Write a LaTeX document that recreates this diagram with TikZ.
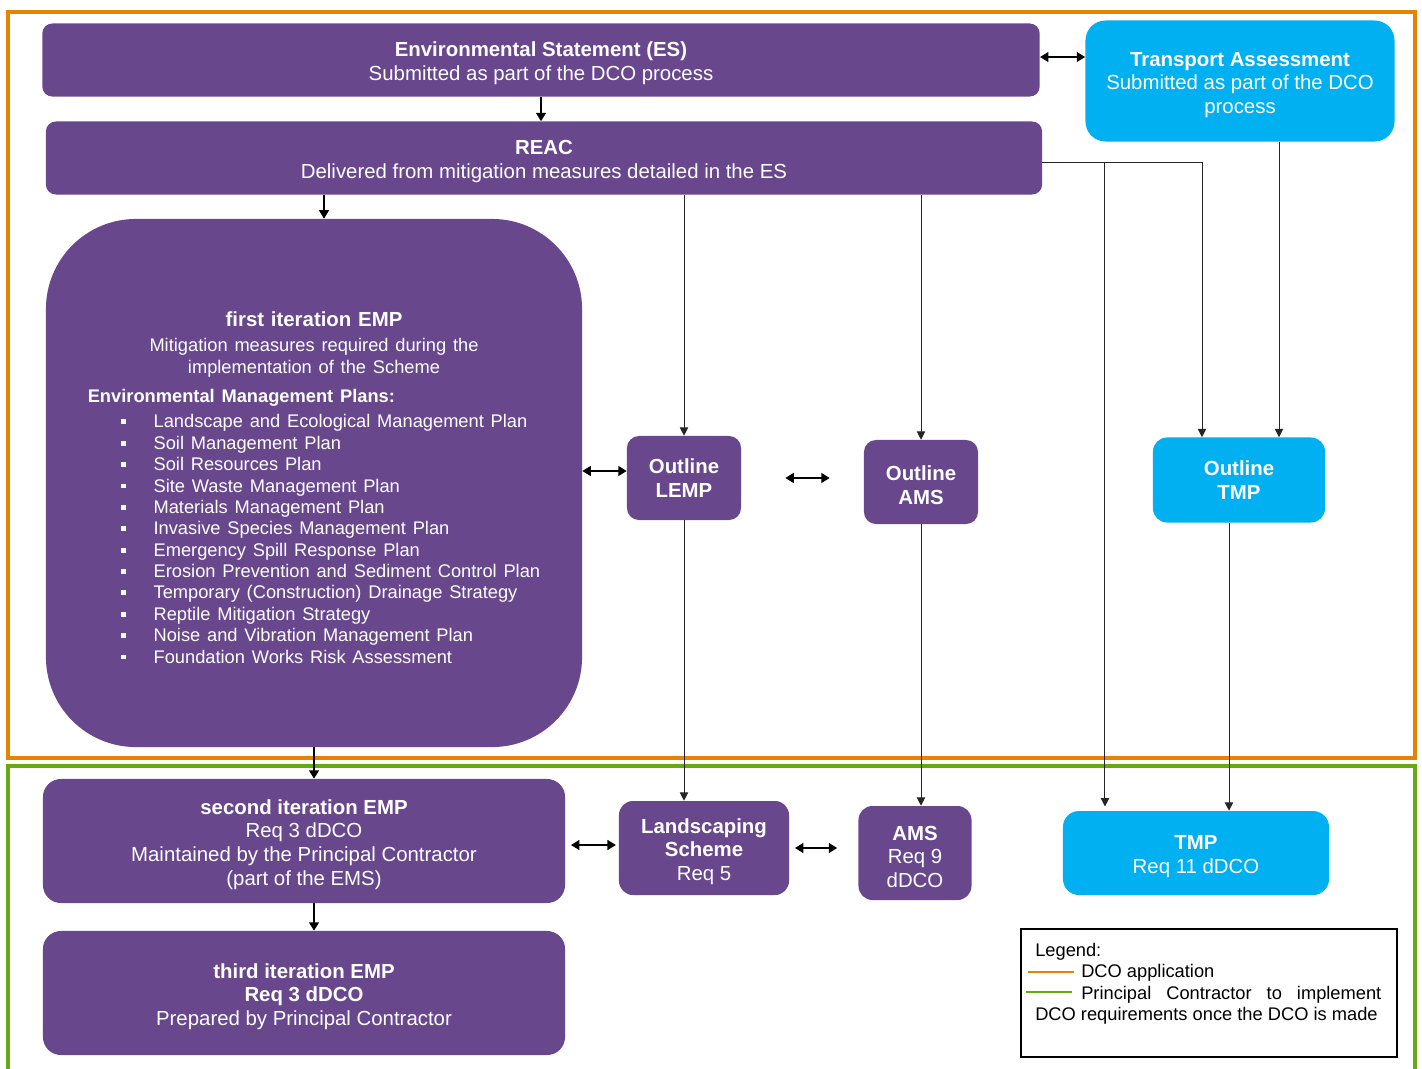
\documentclass[tikz,border=0pt]{standalone}
\usepackage{fontspec}
\setmainfont{Liberation Sans}
\definecolor{planpurple}{RGB}{104, 71, 141}
\definecolor{planblue}{RGB}{0, 176, 240}
\definecolor{dcoorange}{RGB}{228, 132, 0}
\definecolor{pcgreen}{RGB}{102, 170, 18}
\usetikzlibrary{arrows.meta, positioning, calc}
\newcommand{\boxfont}{\fontsize{14.5}{16.8}\selectfont}
\newcommand{\listfont}{\fontsize{13}{15.2}\selectfont}
\newcommand{\lift}{\rule{0pt}{15.5pt}}
\newcommand{\planitem}[1]{\hspace*{0.825cm}\rule[0.2em]{0.12cm}{0.12cm}\hspace*{0.7cm}#1}

\begin{document}
\begin{tikzpicture}[x=0.025cm, y=-0.025cm,
  purplebox/.style={fill=planpurple, text=white, rounded corners=0.3cm, align=center, font=\boxfont, inner sep=2pt},
  bluebox/.style={fill=planblue, text=white, rounded corners=0.4cm, align=center, font=\boxfont, inner sep=2pt},
  thickarrow/.style={-{Triangle[length=6pt,width=7pt]}, line width=1.3pt},
  thickboth/.style={{Triangle[length=6pt,width=7pt]}-{Triangle[length=6pt,width=7pt]}, line width=1.3pt},
  thinarrow/.style={-{Triangle[length=6pt,width=6pt]}, line width=0.7pt, draw=black!85}]
  \useasboundingbox (0,0) rectangle (1422,1068);

  % DCO application and Principal Contractor frames
  \draw[dcoorange, line width=0.1cm] (8,12) rectangle (1415,758);
  \draw[pcgreen, line width=0.1cm] (8,1075) -- (8,766) -- (1415,766) -- (1415,1075);

  % Top row
  \node[purplebox, rounded corners=0.25cm, minimum width=24.93cm, minimum height=1.825cm] (es) at (541,60) {
    \lift\textbf{Environmental Statement (ES)}\\Submitted as part of the DCO process};
  \node[bluebox, rounded corners=0.5cm, minimum width=7.725cm, minimum height=3.025cm, text width=7.2cm, align=flush center] (ta) at (1240,81) {
    \lift\textbf{Transport Assessment}\\Submitted as part of the DCO process};
  \node[purplebox, rounded corners=0.25cm, minimum width=24.9cm, minimum height=1.825cm] (reac) at (544,158) {
    \lift\textbf{REAC}\\Delivered from mitigation measures detailed in the ES};

  % First iteration EMP
  \node[purplebox, rounded corners=2.25cm, minimum width=13.4cm, minimum height=13.2cm, text width=12.5cm] (emp1) at (314,483) {
    \rule{0pt}{21pt}\textbf{first iteration EMP}\\[3pt]
    {\listfont Mitigation measures required during the\\implementation of the Scheme\par}
    \vspace{6.5pt}
    {\listfont\begin{tabular}{@{}l@{}}
      \textbf{Environmental Management Plans:}\\[3pt]
      \planitem{Landscape and Ecological Management Plan}\\
      \planitem{Soil Management Plan}\\
      \planitem{Soil Resources Plan}\\
      \planitem{Site Waste Management Plan}\\
      \planitem{Materials Management Plan}\\
      \planitem{Invasive Species Management Plan}\\
      \planitem{Emergency Spill Response Plan}\\
      \planitem{Erosion Prevention and Sediment Control Plan}\\
      \planitem{Temporary (Construction) Drainage Strategy}\\
      \planitem{Reptile Mitigation Strategy}\\
      \planitem{Noise and Vibration Management Plan}\\
      \planitem{Foundation Works Risk Assessment}
    \end{tabular}\par}};

  % Outline plans
  \node[purplebox, minimum width=2.85cm, minimum height=2.1cm] (lemp) at (684,478) {\textbf{Outline}\\\textbf{LEMP}};
  \node[purplebox, minimum width=2.85cm, minimum height=2.1cm] (oams) at (921,482) {\lift\textbf{Outline}\\\textbf{AMS}};
  \node[bluebox, rounded corners=0.35cm, minimum width=4.3cm, minimum height=2.125cm] (otmp) at (1239,480) {\textbf{Outline}\\\textbf{TMP}};

  % Principal Contractor stage
  \node[purplebox, rounded corners=0.45cm, minimum width=13.05cm, minimum height=3.1cm] (emp2) at (304,841) {
    \lift\textbf{second iteration EMP}\\Req 3 dDCO\\Maintained by the Principal Contractor\\(part of the EMS)};
  \node[purplebox, rounded corners=0.45cm, minimum width=13.05cm, minimum height=3.1cm] (emp3) at (304,993) {
    \lift\textbf{third iteration EMP}\\\textbf{Req 3 dDCO}\\Prepared by Principal Contractor};
  \node[purplebox, rounded corners=0.35cm, minimum width=4.25cm, minimum height=2.35cm] (land) at (704,848) {
    \lift\textbf{Landscaping}\\\textbf{Scheme}\\Req 5};
  \node[purplebox, rounded corners=0.35cm, minimum width=2.825cm, minimum height=2.35cm] (ams) at (915,853) {
    \lift\textbf{AMS}\\Req 9\\dDCO};
  \node[bluebox, minimum width=6.65cm, minimum height=2.1cm] (tmp) at (1196,853) {\lift\textbf{TMP}\\Req 11 dDCO};

  % Legend
  \node[draw, line width=1.4pt, minimum width=9.4cm, minimum height=3.2cm] (legend) at (1209,993) {};
  \node[anchor=north west, inner sep=0pt, text width=8.85cm, align=flush left, font=\listfont] (legtext)
    at ([xshift=0.375cm, yshift=-0.375cm]legend.north west) {
    Legend:\\
    \hspace*{1.15cm}DCO application\\
    \hspace*{1.15cm}\makebox[7.5cm][l]{Principal\hfill Contractor\hfill to\hfill implement}\\
    DCO requirements once the DCO is made};
  \draw[dcoorange, line width=1.4pt] ($(legend.north west)+(8,44)$) -- ++(46,0);
  \draw[pcgreen, line width=1.4pt] ($(legend.north west)+(6,64)$) -- ++(46,0);

  % Connectors
  \coordinate (reacout) at ([yshift=-0.1cm]reac.east);
  \draw[thickarrow] (es.south) -- (es.south |- reac.north);
  \draw[thickboth] ([yshift=0.075cm]es.east) -- ([yshift=0.075cm]es.east -| ta.west);
  \draw[thickarrow] ([xshift=0.25cm]emp1.north |- reac.south) -- ([xshift=0.25cm]emp1.north);
  \draw[thinarrow] (lemp.north |- reac.south) -- (lemp.north);
  \draw[thinarrow] (oams.north |- reac.south) -- (oams.north);
  \draw[thinarrow] (reacout) -| ([xshift=-0.925cm]otmp.north);
  \draw[thinarrow, shorten >=3pt] ([xshift=-2.275cm]tmp.north |- reacout) -- ([xshift=-2.275cm]tmp.north);
  \draw[thinarrow] ([xshift=1cm]otmp.north |- ta.south) -- ([xshift=1cm]otmp.north);
  \draw[thickboth] ([yshift=0.175cm]lemp.west) -- ([yshift=0.175cm]lemp.west -| emp1.east);
  \draw[thickboth, shorten <=1.1cm, shorten >=0.85cm] (lemp.east) -- (lemp.east -| oams.west);
  \draw[thinarrow] (lemp.south) -- (lemp.south |- land.north);
  \draw[thinarrow] (oams.south) -- (oams.south |- ams.north);
  \draw[thinarrow] ([xshift=-0.25cm]otmp.south) -- ([xshift=-0.25cm]otmp.south |- tmp.north);
  \draw[thickarrow] (emp1.south) -- (emp1.south |- emp2.north);
  \draw[thickboth, shorten <=4pt, shorten >=2pt] ([yshift=-0.1cm]emp2.east) -- ([yshift=-0.1cm]emp2.east -| land.west);
  \draw[thickboth, shorten <=4pt, shorten >=0.525cm] (land.east) -- (land.east -| ams.west);
  \draw[thickarrow] ([xshift=0.25cm]emp2.south) -- ([xshift=0.25cm]emp2.south |- emp3.north);
\end{tikzpicture}
\end{document}
